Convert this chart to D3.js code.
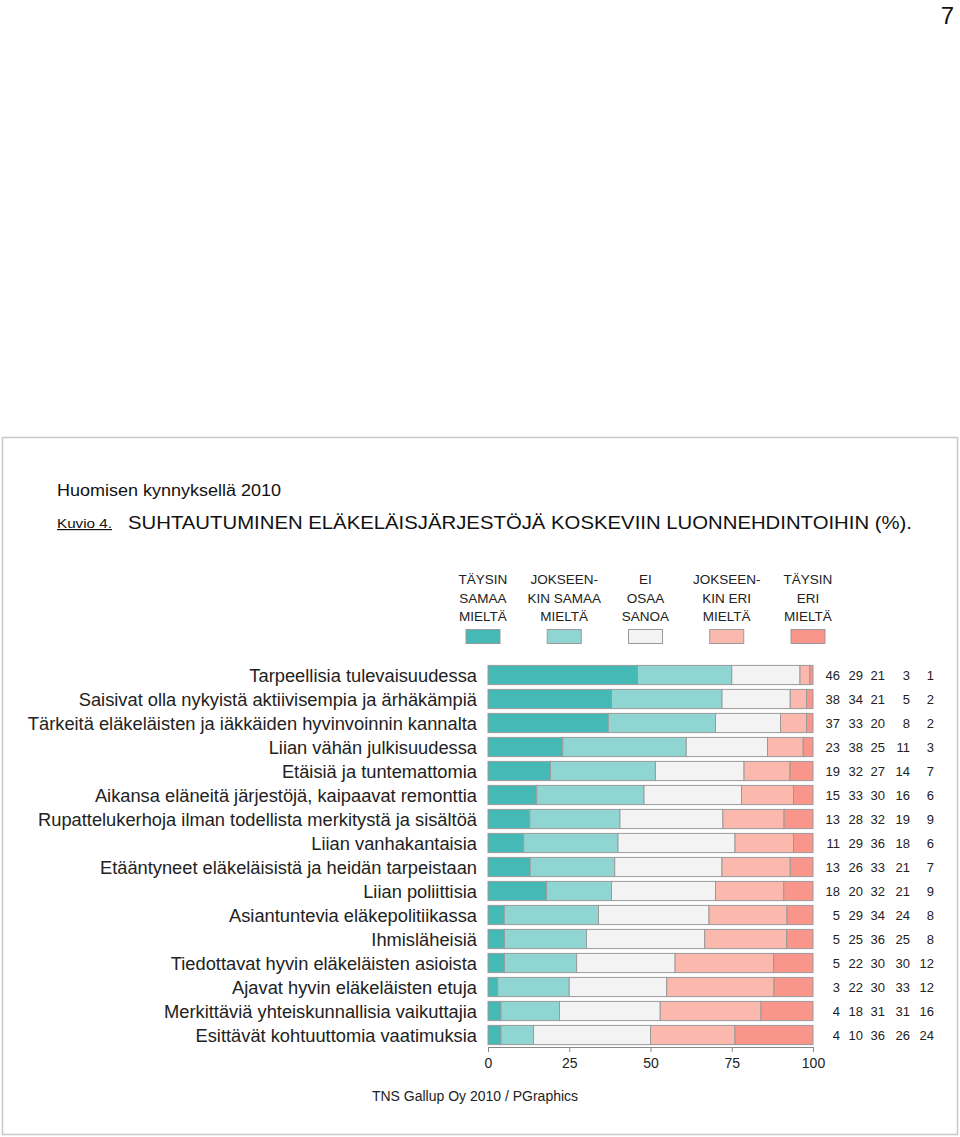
<!DOCTYPE html>
<html><head><meta charset="utf-8">
<script src="https://cdn.jsdelivr.net/npm/d3@7"></script>
<style>body{margin:0;background:#fff;} svg{display:block;font-family:"Liberation Sans",Arial,sans-serif;}</style>
</head><body>
<svg id="c" width="960" height="1137"></svg>
<script>
const categories = [
"Tarpeellisia tulevaisuudessa",
"Saisivat olla nykyistä aktiivisempia ja ärhäkämpiä",
"Tärkeitä eläkeläisten ja iäkkäiden hyvinvoinnin kannalta",
"Liian vähän julkisuudessa",
"Etäisiä ja tuntemattomia",
"Aikansa eläneitä järjestöjä, kaipaavat remonttia",
"Rupattelukerhoja ilman todellista merkitystä ja sisältöä",
"Liian vanhakantaisia",
"Etääntyneet eläkeläisistä ja heidän tarpeistaan",
"Liian poliittisia",
"Asiantuntevia eläkepolitiikassa",
"Ihmisläheisiä",
"Tiedottavat hyvin eläkeläisten asioista",
"Ajavat hyvin eläkeläisten etuja",
"Merkittäviä yhteiskunnallisia vaikuttajia",
"Esittävät kohtuuttomia vaatimuksia"];
const taysinSamaa   = [46,38,37,23,19,15,13,11,13,18,5,5,5,3,4,4];
const jokseenSamaa  = [29,34,33,38,32,33,28,29,26,20,29,25,22,22,18,10];
const eiOsaa        = [21,21,20,25,27,30,32,36,33,32,34,36,30,30,31,36];
const jokseenEri    = [3,5,8,11,14,16,19,18,21,21,24,25,30,33,31,26];
const taysinEri     = [1,2,2,3,7,6,9,6,7,9,8,8,12,12,16,24];
const seriesLabels = [["TÄYSIN","SAMAA","MIELTÄ"],["JOKSEEN-","KIN SAMAA","MIELTÄ"],["EI","OSAA","SANOA"],["JOKSEEN-","KIN ERI","MIELTÄ"],["TÄYSIN","ERI","MIELTÄ"]];
const colors = ["#45b9b5","#8fd6d3","#f3f3f3","#fbb9ad","#f9958a"];
const xTicks = [0,25,50,75,100];

const svg = d3.select("#c");
// page number
svg.append("text").attr("x",954).attr("y",24).attr("text-anchor","end").attr("font-size",24).attr("fill","#111").text("7");
// panel
svg.append("rect").attr("x",2.5).attr("y",437.5).attr("width",955).attr("height",697).attr("fill","#fff").attr("stroke","#c8c8c8").attr("stroke-width",1.5);

svg.append("text").attr("x",57).attr("y",496).attr("font-size",16).attr("fill","#111").attr("textLength",224).attr("lengthAdjust","spacingAndGlyphs").text("Huomisen kynnyksellä 2010");
svg.append("text").attr("x",57).attr("y",528).attr("font-size",12).attr("fill","#111").attr("text-decoration","underline").attr("textLength",55).attr("lengthAdjust","spacingAndGlyphs").text("Kuvio 4.");
svg.append("text").attr("x",128).attr("y",529).attr("font-size",19).attr("fill","#111").attr("textLength",784).attr("lengthAdjust","spacingAndGlyphs").text("SUHTAUTUMINEN ELÄKELÄISJÄRJESTÖJÄ KOSKEVIIN LUONNEHDINTOIHIN (%).");

const series = [taysinSamaa,jokseenSamaa,eiOsaa,jokseenEri,taysinEri];
const data = categories.map((c,i)=>{
  const vals = series.map(s=>s[i]);
  const tot = d3.sum(vals);
  const o = {cat:c};
  vals.forEach((v,j)=>o["s"+j]=v/tot*100);
  o.raw = vals;
  return o;
});
const keys = ["s0","s1","s2","s3","s4"];
const stack = d3.stack().keys(keys)(data);

const x = d3.scaleLinear().domain([0,100]).range([488,813]);
const y = d3.scaleBand().domain(categories).range([663,1047]).paddingInner(0.2).paddingOuter(0.1);

// legend
const lx = d3.scalePoint().domain(d3.range(5)).range([483,808]);
seriesLabels.forEach((lines,j)=>{
  const t = svg.append("text").attr("text-anchor","middle").attr("font-size",13.5).attr("fill","#222");
  lines.forEach((l,k)=>t.append("tspan").attr("x",lx(j)).attr("y",584+k*18.5).text(l));
  svg.append("rect").attr("x",lx(j)-17).attr("y",629.5).attr("width",34).attr("height",14).attr("fill",colors[j]).attr("stroke","#9a9a9a");
});

// bars
stack.forEach((layer,j)=>{
  svg.append("g").selectAll("rect").data(layer).join("rect")
    .attr("x",d=>x(d[0])).attr("width",d=>x(d[1])-x(d[0]))
    .attr("y",d=>y(d.data.cat)).attr("height",y.bandwidth())
    .attr("fill",colors[j]).attr("stroke","#9a9a9a").attr("stroke-width",1);
});

// category labels
svg.append("g").selectAll("text").data(categories).join("text")
  .attr("x",477).attr("y",d=>y(d)+y.bandwidth()/2).attr("dy","0.36em")
  .attr("text-anchor","end").attr("font-size",18.3).attr("fill","#222").text(d=>d);

// numbers
const colX = [840,863,885,910,934];
data.forEach(d=>{
  d.raw.forEach((v,j)=>{
    svg.append("text").attr("x",colX[j]).attr("y",y(d.cat)+y.bandwidth()/2).attr("dy","0.36em")
      .attr("text-anchor","end").attr("font-size",13).attr("fill","#222").text(v);
  });
});

// axis
const ax = svg.append("g").attr("transform","translate(0,1047)")
  .call(d3.axisBottom(x).tickValues(xTicks).tickSize(5).tickPadding(6));
ax.selectAll("path,line").attr("stroke","#888");
ax.selectAll("text").attr("font-size",14).attr("fill","#222").attr("font-family","'Liberation Sans',Arial,sans-serif");

svg.append("text").attr("x",475).attr("y",1101).attr("text-anchor","middle").attr("font-size",14).attr("fill","#222").text("TNS Gallup Oy 2010 / PGraphics");
</script>
</body></html>
